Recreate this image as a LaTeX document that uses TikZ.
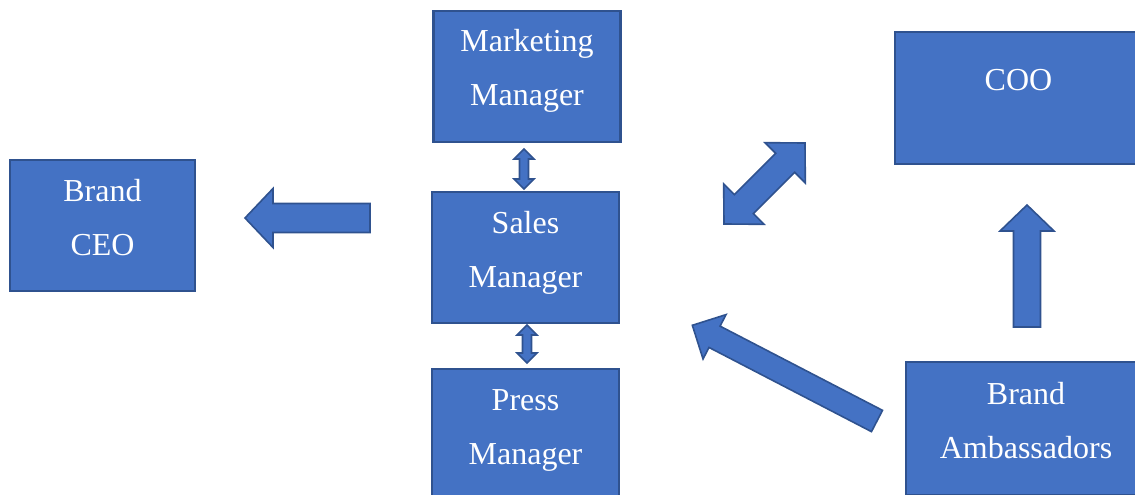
\documentclass[tikz,border=0pt]{standalone}
\usepackage{fontspec}
\setmainfont{Liberation Serif}
\usepackage{tikz}
\usetikzlibrary{positioning}
\definecolor{boxblue}{HTML}{4472C4}
\definecolor{boxedge}{HTML}{2F528F}
% every text line gets the same height and depth
\newcommand{\linestrut}{\rule[-24.5pt]{0pt}{54pt}}
\tikzset{
    role/.style={rectangle, draw=boxedge, fill=boxblue, line width=2.2pt, inner sep=0pt, text=white, align=center, font=\fontsize{32}{54}\selectfont, minimum width=187pt, minimum height=131pt},
    blockarrow/.style={draw=boxedge, fill=boxblue, line width=1.6pt, line join=miter}
}
% block arrows, drawn along +x: length, shaft, head, head length
\newcommand{\singleblock}[4]{%
  \draw[blockarrow] (0,{-#2/2}) -- ({#1-#4},{-#2/2}) -- ({#1-#4},{-#3/2}) -- (#1,0) -- ({#1-#4},{#3/2}) -- ({#1-#4},{#2/2}) -- (0,{#2/2}) -- cycle;}
\newcommand{\doubleblock}[4]{%
  \draw[blockarrow] ({-#1/2},0) -- ({-#1/2+#4},{-#3/2}) -- ({-#1/2+#4},{-#2/2}) -- ({#1/2-#4},{-#2/2}) -- ({#1/2-#4},{-#3/2}) -- ({#1/2},0) -- ({#1/2-#4},{#3/2}) -- ({#1/2-#4},{#2/2}) -- ({-#1/2+#4},{#2/2}) -- ({-#1/2+#4},{#3/2}) -- cycle;}

\begin{document}
\begin{tikzpicture}[x=1pt, y=-1pt]
    \useasboundingbox (0,0) rectangle (1135,495);
    \clip (0,0) rectangle (1135,495);

    % Boxes for the roles
    \node[role, minimum width=185pt] (ceo) at (102.5,225.5) {\linestrut Brand\\\linestrut CEO};
    \node[role] (sales) at (525.5,257.5) {\linestrut Sales\\\linestrut Manager};
    \node[role, above=48pt of sales, xshift=1.5pt] (marketing) {\linestrut Marketing\\\linestrut Manager};
    \node[role, below=44pt of sales] (press) {\linestrut Press\\\linestrut Manager};
    \node[role, minimum width=247pt, minimum height=132pt, text depth=44.5pt] (coo) at (1018.5,98) {\linestrut COO};
    \node[role, minimum width=240pt, minimum height=133pt] (ambassadors) at (1026,428.5) {\linestrut Brand\\\linestrut Ambassadors};

    % Arrow towards the CEO
    \begin{scope}[shift={(370,218)}, rotate=180]
        \singleblock{125}{29}{59}{28}
    \end{scope}

    % Two-way arrows above and below the sales box
    \begin{scope}[shift={(524,169)}, rotate=90]
        \doubleblock{40}{9}{20}{10}
    \end{scope}
    \begin{scope}[shift={(527,344)}, rotate=90]
        \doubleblock{38}{9}{20}{10}
    \end{scope}

    % Two-way arrow on the diagonal
    \begin{scope}[shift={(764.5,183.5)}, rotate=45]
        \doubleblock{114.5}{27}{57}{28}
    \end{scope}

    % Long arrow from the ambassadors
    \begin{scope}[shift={(877,421)}, rotate=152.6]
        \singleblock{208}{24}{50}{25}
    \end{scope}

    % Arrow up to the COO
    \begin{scope}[shift={(1027,327)}, rotate=90]
        \singleblock{122}{27}{54}{26}
    \end{scope}
\end{tikzpicture}
\end{document}
